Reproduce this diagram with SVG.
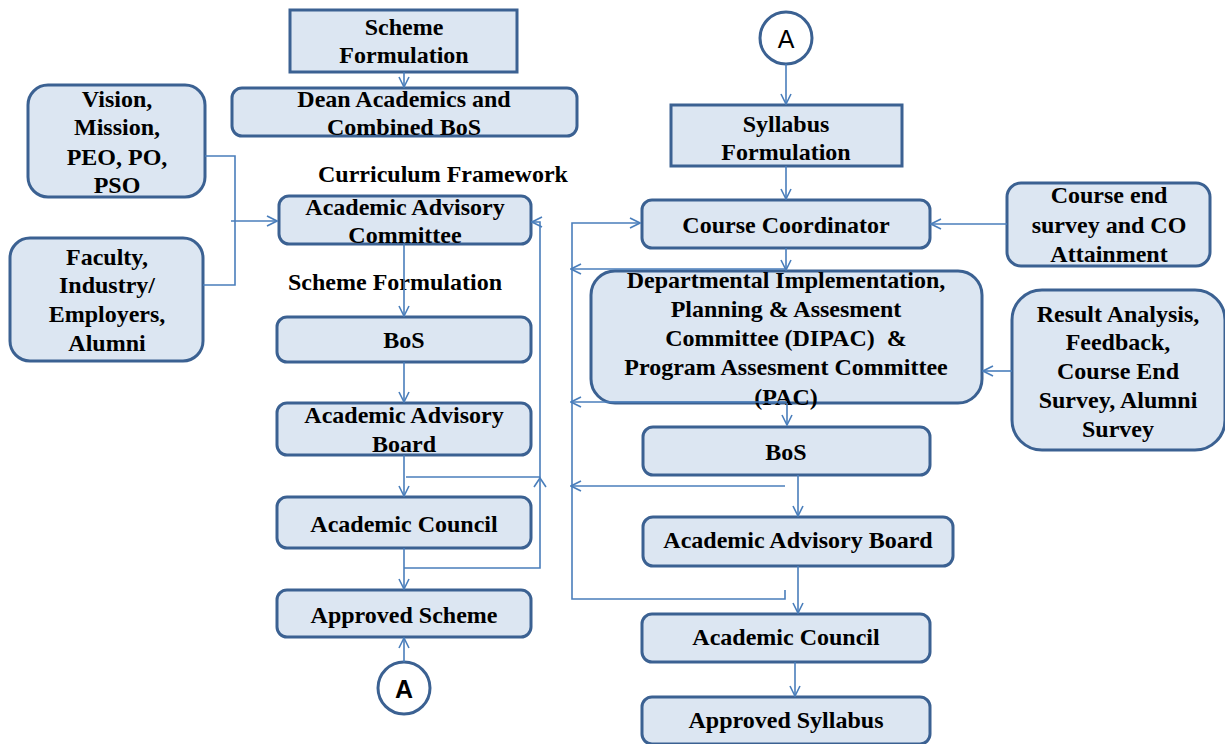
<svg xmlns="http://www.w3.org/2000/svg" width="1225" height="744" viewBox="0 0 1225 744">
<defs>
<style>
.box{fill:#dce6f2;stroke:#3b6192;stroke-width:3}
.t{font-family:"Liberation Serif","Times New Roman",serif;font-weight:bold;font-size:24px;fill:#000;text-anchor:middle}
.lbl{font-family:"Liberation Serif","Times New Roman",serif;font-weight:bold;font-size:24px;fill:#000}
.c{fill:none;stroke:#4a7ebb;stroke-width:1.6}
.circ{fill:#fff;stroke:#3b6192;stroke-width:3}
.a{font-family:"Liberation Sans",Arial,sans-serif;font-size:25px;fill:#000;text-anchor:middle}
</style>
<marker id="ar" viewBox="0 0 12 12" refX="11" refY="6" markerWidth="12" markerHeight="12" markerUnits="userSpaceOnUse" orient="auto">
<path d="M1,1 L11,6 L1,11" fill="none" stroke="#4a7ebb" stroke-width="1.6"/>
</marker>
</defs>
<rect width="1225" height="744" fill="#fff"/>

<g id="scheme-formulation"><rect class="box" x="290" y="10" width="227" height="62"/><text class="t" x="404" y="35">Scheme</text><text class="t" x="404" y="63">Formulation</text></g>
<g id="dean-academics"><rect class="box" x="232" y="88" width="345" height="48" rx="10"/><text class="t" x="404" y="107">Dean Academics and</text><text class="t" x="404" y="135">Combined BoS</text></g>
<g id="vision"><rect class="box" x="28" y="85" width="177" height="112" rx="20"/><text class="t" x="117" y="107">Vision,</text><text class="t" x="117" y="135">Mission,</text><text class="t" x="117" y="165">PEO, PO,</text><text class="t" x="117" y="193">PSO</text></g>
<g id="faculty"><rect class="box" x="10" y="238" width="193" height="123" rx="20"/><text class="t" x="107" y="265">Faculty,</text><text class="t" x="107" y="293">Industry/</text><text class="t" x="107" y="322">Employers,</text><text class="t" x="107" y="351">Alumni</text></g>
<g id="label-curriculum"><text class="lbl" x="318" y="182">Curriculum Framework</text></g>
<g id="aac"><rect class="box" x="279" y="196" width="252" height="48" rx="10"/><text class="t" x="405" y="215">Academic Advisory</text><text class="t" x="405" y="243">Committee</text></g>
<g id="label-scheme"><text class="lbl" x="288" y="290">Scheme Formulation</text></g>
<g id="bos-left"><rect class="box" x="277" y="317" width="254" height="45" rx="10"/><text class="t" x="404" y="348">BoS</text></g>
<g id="aab-left"><rect class="box" x="277" y="403" width="254" height="52" rx="10"/><text class="t" x="404" y="423">Academic Advisory</text><text class="t" x="404" y="452">Board</text></g>
<g id="ac-left"><rect class="box" x="277" y="497" width="254" height="51" rx="10"/><text class="t" x="404" y="532">Academic Council</text></g>
<g id="approved-scheme"><rect class="box" x="277" y="590" width="254" height="47" rx="10"/><text class="t" x="404" y="623">Approved Scheme</text></g>
<g id="connector-a-bottom"><circle class="circ" cx="404" cy="688" r="26"/><text class="a" x="404" y="698" font-weight="bold">A</text></g>

<g id="connector-a-top"><circle class="circ" cx="786" cy="38" r="26"/><text class="a" x="786" y="48">A</text></g>
<g id="syllabus-formulation"><rect class="box" x="671" y="105" width="231" height="61"/><text class="t" x="786" y="132">Syllabus</text><text class="t" x="786" y="160">Formulation</text></g>
<g id="course-coordinator"><rect class="box" x="642" y="200" width="288" height="48" rx="10"/><text class="t" x="786" y="233">Course Coordinator</text></g>
<g id="course-end"><rect class="box" x="1007" y="183" width="203" height="83" rx="14"/><text class="t" x="1109" y="203">Course end</text><text class="t" x="1109" y="233">survey and CO</text><text class="t" x="1109" y="262">Attainment</text></g>
<g id="dipac"><rect class="box" x="591" y="271" width="391" height="132" rx="24"/><text class="t" x="786" y="288">Departmental Implementation,</text><text class="t" x="786" y="317">Planning &amp; Assesment</text><text class="t" x="786" y="346" xml:space="preserve">Committee (DIPAC)  &amp;</text><text class="t" x="786" y="375">Program Assesment Committee</text><text class="t" x="786" y="405">(PAC)</text></g>
<g id="result-analysis"><rect class="box" x="1012" y="290" width="213" height="160" rx="30"/><text class="t" x="1118" y="322">Result Analysis,</text><text class="t" x="1118" y="350">Feedback,</text><text class="t" x="1118" y="379">Course End</text><text class="t" x="1118" y="408">Survey, Alumni</text><text class="t" x="1118" y="437">Survey</text></g>
<g id="bos-right"><rect class="box" x="643" y="427" width="287" height="48" rx="10"/><text class="t" x="786" y="460">BoS</text></g>
<g id="aab-right"><rect class="box" x="643" y="517" width="310" height="49" rx="10"/><text class="t" x="798" y="548">Academic Advisory Board</text></g>
<g id="ac-right"><rect class="box" x="642" y="614" width="288" height="48" rx="10"/><text class="t" x="786" y="645">Academic Council</text></g>
<g id="approved-syllabus"><rect class="box" x="642" y="697" width="288" height="47" rx="10"/><text class="t" x="786" y="728">Approved Syllabus</text></g>

<g id="connectors">
<path class="c" d="M404,72 V87" marker-end="url(#ar)"/>
<path class="c" d="M205,156 H235 V285 H203"/>
<path class="c" d="M231,221 H277" marker-end="url(#ar)"/>
<path class="c" d="M404,244 V316" marker-end="url(#ar)"/>
<path class="c" d="M404,362 V402" marker-end="url(#ar)"/>
<path class="c" d="M404,455 V496" marker-end="url(#ar)"/>
<path class="c" d="M404,548 V589" marker-end="url(#ar)"/>
<path class="c" d="M404,568 H540 V222 H532" marker-end="url(#ar)"/>
<path class="c" d="M406,477 H540"/>
<path class="c" d="M534,487 L540,478 L546,487"/>
<path class="c" d="M404,662 V638" marker-end="url(#ar)"/>
<path class="c" d="M786,64 V104" marker-end="url(#ar)"/>
<path class="c" d="M786,166 V199" marker-end="url(#ar)"/>
<path class="c" d="M1007,224 H931" marker-end="url(#ar)"/>
<path class="c" d="M786,248 V270" marker-end="url(#ar)"/>
<path class="c" d="M1012,371 H983" marker-end="url(#ar)"/>
<path class="c" d="M785,590 V599 H572 V223 H640" marker-end="url(#ar)"/>
<path class="c" d="M787,269 H571" marker-end="url(#ar)"/>
<path class="c" d="M787,402 H571" marker-end="url(#ar)"/>
<path class="c" d="M785,486 H571" marker-end="url(#ar)"/>
<path class="c" d="M787,403 V425" marker-end="url(#ar)"/>
<path class="c" d="M798,475 V516" marker-end="url(#ar)"/>
<path class="c" d="M798,566 V613" marker-end="url(#ar)"/>
<path class="c" d="M795,662 V696" marker-end="url(#ar)"/>
</g>
</svg>
